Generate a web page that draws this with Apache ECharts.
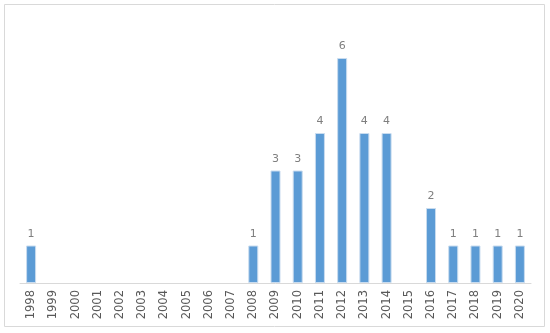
<!DOCTYPE html>
<html>
<head>
<meta charset="utf-8">
<script src="https://cdn.jsdelivr.net/npm/echarts@6/dist/echarts.min.js"></script>
<style>
  html, body { margin: 0; padding: 0; background: #fff; }
  #chart { width: 550px; height: 333px; }
</style>
</head>
<body>
<div id="chart"></div>
<script>
// years on the x axis
const years = ["1998","1999","2000","2001","2002","2003","2004","2005","2006","2007",
  "2008","2009","2010","2011","2012","2013","2014","2015","2016","2017","2018","2019","2020"];
// counts per year (0 = no bar)
const counts = [1,0,0,0,0,0,0,0,0,0,1,3,3,4,6,4,4,0,2,1,1,1,1];

const chart = echarts.init(document.getElementById('chart'));

const options = {
  animation: false,
  grid: { left: 20, right: 19, top: 20.5, bottom: 50 },
  // outer frame like the spreadsheet chart area
  graphic: [{
    type: 'rect',
    shape: { x: 4.5, y: 4.5, width: 540, height: 322 },
    style: { fill: 'none', stroke: '#d9d9d9', lineWidth: 1 },
    silent: true
  }],
  xAxis: {
    type: 'category',
    data: years,
    axisTick: { show: false },
    axisLine: { lineStyle: { color: '#d9d9d9' } },
    axisLabel: {
      rotate: 90,
      interval: 0,
      color: '#595959',
      fontFamily: 'DejaVu Sans',
      fontSize: 11.5,
      margin: 7
    }
  },
  yAxis: {
    type: 'value',
    min: 0,
    max: 7,
    show: false,
    splitLine: { show: false }
  },
  series: [{
    type: 'bar',
    data: counts.map(v => v === 0 ? '-' : v),
    barWidth: 10,
    itemStyle: { color: '#5b9bd5', borderColor: '#c9dcef', borderWidth: 1 },
    label: {
      show: true,
      position: 'top',
      distance: 6,
      color: '#7f7f7f',
      fontFamily: 'DejaVu Sans',
      fontSize: 11
    }
  }]
};

chart.setOption(options);
</script>
</body>
</html>
